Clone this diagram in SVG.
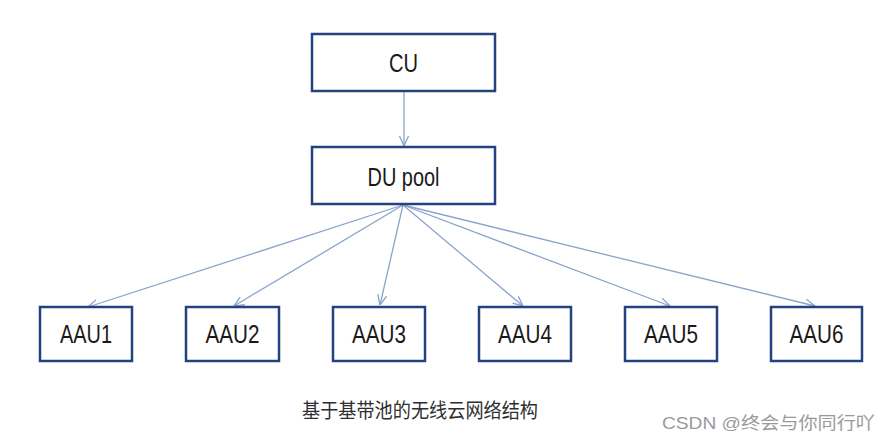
<svg xmlns="http://www.w3.org/2000/svg" width="889" height="441" viewBox="0 0 889 441">
<style>
.box{fill:#fff;stroke:#24427f;stroke-width:2.5}
.lbl{font-family:"Liberation Sans",Arial,sans-serif;font-size:26px;fill:#1a1a1a;text-anchor:middle}
.edge{stroke:#8aa4cc;stroke-width:1.3;fill:none;marker-end:url(#ah)}
.cap{font-family:"Noto Sans CJK SC",sans-serif;font-size:20px;fill:#2e2e2e}
.wm{font-family:"Liberation Sans","Noto Sans CJK SC",sans-serif;font-size:17px;fill:#9a9a9a}
</style>
<defs>
<marker id="ah" viewBox="0 0 10 10" refX="10" refY="5" markerWidth="10" markerHeight="10" markerUnits="userSpaceOnUse" orient="auto">
<path d="M0,0.5 L10,5 L0,9.5" fill="none" stroke="#8aa4cc" stroke-width="1.3"/>
</marker>
</defs>
<rect width="889" height="441" fill="#fff"/>
<g id="connectors">
<line class="edge" x1="404" y1="92" x2="404" y2="146"/>
<line class="edge" x1="403" y1="205" x2="88" y2="307"/>
<line class="edge" x1="403" y1="205" x2="234" y2="306"/>
<line class="edge" x1="403" y1="205" x2="380" y2="305"/>
<line class="edge" x1="403" y1="205" x2="523" y2="306"/>
<line class="edge" x1="403" y1="205" x2="670" y2="306"/>
<line class="edge" x1="403" y1="205" x2="815" y2="306"/>
</g>
<g id="cu"><rect class="box" x="312" y="34" width="183" height="57"/><text class="lbl" x="403.5" y="72" textLength="29" lengthAdjust="spacingAndGlyphs">CU</text></g>
<g id="dupool"><rect class="box" x="312" y="147" width="183" height="57"/><text class="lbl" x="403.5" y="186" textLength="72" lengthAdjust="spacingAndGlyphs">DU pool</text></g>
<g id="aau1"><rect class="box" x="40" y="307" width="92" height="54"/><text class="lbl" x="86" y="343" textLength="52" lengthAdjust="spacingAndGlyphs">AAU1</text></g>
<g id="aau2"><rect class="box" x="186" y="307" width="93" height="54"/><text class="lbl" x="232.5" y="343" textLength="54" lengthAdjust="spacingAndGlyphs">AAU2</text></g>
<g id="aau3"><rect class="box" x="333" y="307" width="92" height="54"/><text class="lbl" x="379" y="343" textLength="54" lengthAdjust="spacingAndGlyphs">AAU3</text></g>
<g id="aau4"><rect class="box" x="479" y="307" width="92" height="54"/><text class="lbl" x="525" y="343" textLength="54" lengthAdjust="spacingAndGlyphs">AAU4</text></g>
<g id="aau5"><rect class="box" x="625" y="307" width="92" height="54"/><text class="lbl" x="671" y="343" textLength="54" lengthAdjust="spacingAndGlyphs">AAU5</text></g>
<g id="aau6"><rect class="box" x="771" y="307" width="91" height="54"/><text class="lbl" x="816.5" y="343" textLength="54" lengthAdjust="spacingAndGlyphs">AAU6</text></g>
<text class="cap" x="302" y="418" textLength="236" lengthAdjust="spacingAndGlyphs">基于基带池的无线云网络结构</text>
<text class="wm" x="662" y="429" textLength="213" lengthAdjust="spacingAndGlyphs">CSDN @终会与你同行吖</text>
</svg>
